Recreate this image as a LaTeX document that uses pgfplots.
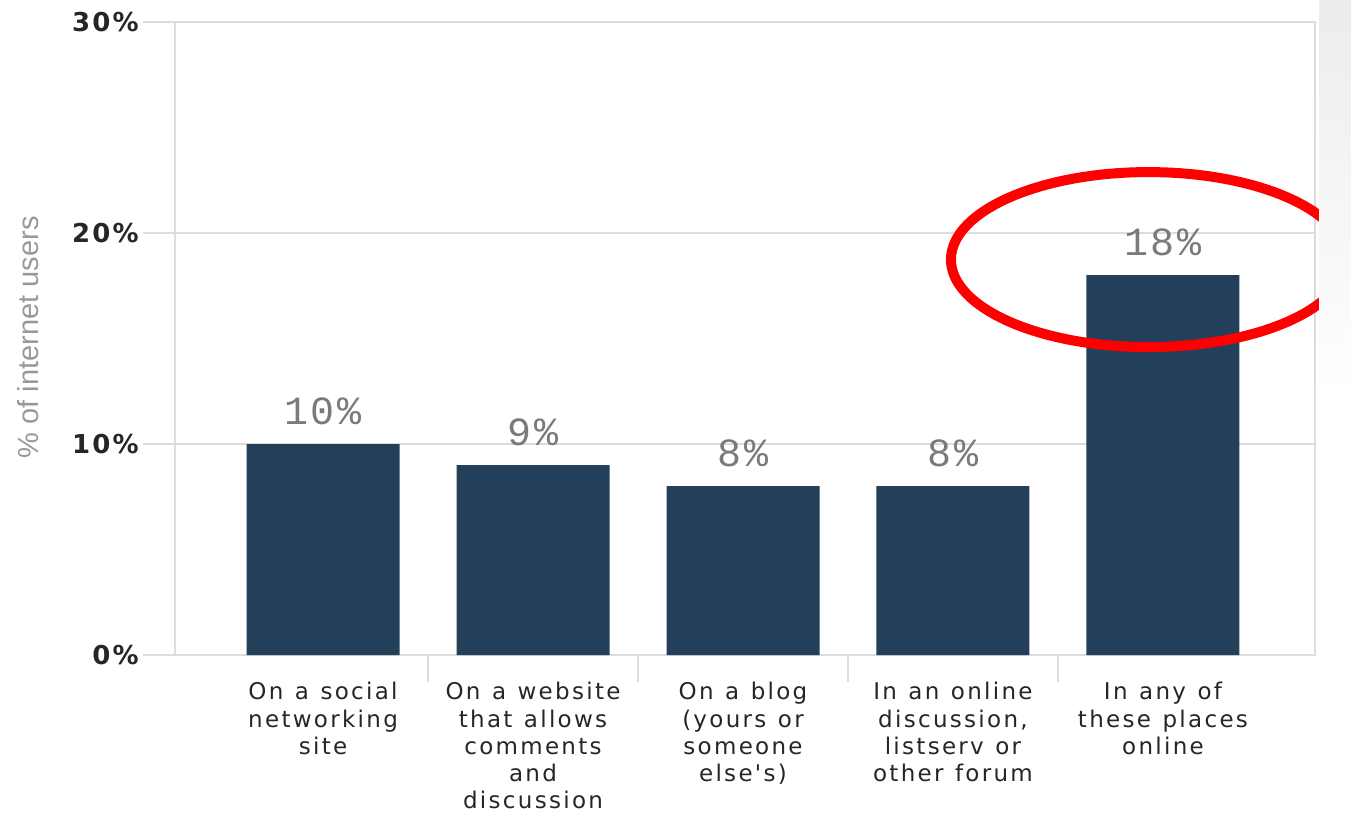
\documentclass[border=0pt]{standalone}
\usepackage{pgfplots}
\pgfplotsset{compat=1.18}
\usepackage{fontspec}
\setmainfont{DejaVu Sans}
\newfontfamily\catfont[LetterSpace=10]{DejaVu Sans}
\newfontfamily\tickfont[LetterSpace=8]{DejaVu Sans}
\newfontfamily\valfont[LetterSpace=6]{Liberation Mono}
\newfontfamily\labfont{Liberation Sans}
\newcommand\s{\hspace{0.5em}}
\definecolor{barblue}{HTML}{233F59}
\definecolor{gridgray}{HTML}{DCDCDC}
\definecolor{txt}{HTML}{262626}
\definecolor{valgray}{HTML}{7A7A7A}
\begin{document}
\begin{tikzpicture}
\begin{axis}[
  scale only axis, width=570pt, height=316.5pt,
  xmin=-0.705, xmax=4.724, ymin=0, ymax=30,
  clip=false,
  axis line style={gridgray, line width=1pt},
  tick style={gridgray, line width=1pt},
  ymajorgrids, major grid style={gridgray, line width=1pt},
  ytick={0,10,20,30},
  yticklabels={0\%,10\%,20\%,30\%},
  ytick pos=left, ytick align=outside,
  major tick length=16pt,
  yticklabel style={font=\tickfont\bfseries\fontsize{13}{15}\selectfont, text=txt, anchor=east, inner sep=0pt, xshift=-2pt},
  xtick={0,1,2,3,4},
  xtick pos=bottom,
  x tick style={draw=none},
  xticklabels={
    {On\s a\s social\\networking\\site},
    {On\s a\s website\\that\s allows\\comments\\and\\discussion},
    {On\s a\s blog\\(yours\s or\\someone\\else's)},
    {In\s an\s online\\discussion,\\listserv\s or\\other\s forum},
    {In\s any\s of\\these\s places\\online}},
  xticklabel style={font=\catfont\fontsize{11.5}{13.6}\selectfont, text=txt, align=center, text width=110pt, anchor=north, inner sep=0pt, yshift=-13.5pt},
  extra x ticks={0.5,1.5,2.5,3.5},
  extra x tick labels={},
  extra x tick style={x tick style={draw=gridgray, line width=1pt}, major tick length=13.5pt, xtick align=outside},
  ylabel={\% of internet users},
  every axis y label/.style={at={(axis description cs:-0.129,0.502)}, rotate=90, anchor=center, font=\labfont\fontsize{14.5}{16}\selectfont, text=gray!80},
  nodes near coords={\pgfmathprintnumber[assume math mode=true]{\pgfplotspointmeta}\%},
  every node near coord/.append style={font=\valfont\fontsize{20}{22}\selectfont, text=valgray, anchor=base, inner sep=0pt, yshift=10pt},
]
\addplot[ybar, bar width=76.5pt, fill=barblue, draw=none] coordinates {(0,10) (1,9) (2,8) (3,8) (4,18)};
\draw[red, line width=5pt] (axis cs:3.931,18.74) ellipse [x radius=98.75pt, y radius=43.75pt];
\end{axis}
\shade[top color=gray!15, bottom color=white] (572pt,327.5pt) rectangle (588pt,130pt);
\pgfresetboundingbox
\useasboundingbox (-87.5pt,-80pt) rectangle (588pt,327.5pt);
\end{tikzpicture}
\end{document}
